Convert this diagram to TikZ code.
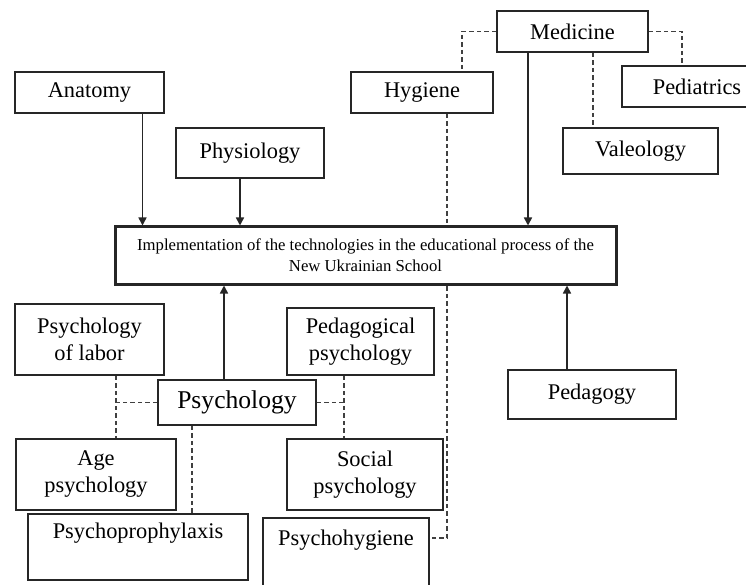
\documentclass[tikz,border=0pt]{standalone}
\usepackage{fontspec}
\setmainfont{Liberation Serif}
\usetikzlibrary{arrows.meta,backgrounds}
\tikzset{
  box/.style={draw=black!85, line width=1.6pt, fill=white, rectangle, inner sep=0pt, align=center, font=\fontsize{22.4}{27}\selectfont},
  mainbox/.style={box, line width=3pt, font=\fontsize{16.7}{21}\selectfont},
  conn/.style={draw=black!85, line width=1.6pt, -{Triangle[length=8pt,width=8pt]}},
  dline/.style={draw=black!75, line width=1.5pt, dash pattern=on 4.5pt off 3pt},
}
\begin{document}
\begin{tikzpicture}[x=1pt,y=-1pt]
\useasboundingbox (0,0) rectangle (746,585);
% top nodes
\node[box, minimum width=151, minimum height=41] (med) at (572.5,31.5) {Medicine};
\node[box, minimum width=142, minimum height=41] (hyg) at (422,92.5) {Hygiene};
\node[box, minimum width=150, minimum height=41] (ped) at (697,86.5) {Pediatrics};
\node[box, minimum width=155, minimum height=46] (val) at (640.5,151) {Valeology};
\node[box, minimum width=149, minimum height=41] (ana) at (89.5,92.5) {Anatomy};
\node[box, minimum width=148, minimum height=50] (phy) at (250,153) {Physiology};
% main
\node[mainbox, minimum width=501, minimum height=57] (main) at (365.5,255.5) {Implementation of the technologies in the educational process of the\\New Ukrainian School};
% lower nodes
\node[box, minimum width=149, minimum height=71] (lab) at (89.5,339.5) {Psychology\\of labor};
\node[box, minimum width=147, minimum height=67] (pps) at (360.5,341.5) {Pedagogical\\psychology};
\node[box, minimum width=158, minimum height=45, font=\fontsize{25.6}{30}\selectfont] (psy) at (237,402.5) {Psychology};
\node[box, minimum width=168, minimum height=49] (pdg) at (592,394.5) {Pedagogy};
\node[box, minimum width=160, minimum height=71] (age) at (96,474.5) {Age\\psychology};
\node[box, minimum width=156, minimum height=71] (soc) at (365,474.5) {Social\\psychology};
\node[box, minimum width=220, minimum height=66, text depth=6pt] (ppx) at (138,547) {Psychoprophylaxis\\\mbox{}};
\node[box, minimum width=166, minimum height=72, text depth=6pt] (phg) at (346,554) {Psychohygiene\\\mbox{}};
\coordinate (lx) at ([xshift=26.5]lab.south);
\coordinate (rx) at ([xshift=-16.5]pps.south);
\begin{scope}[on background layer]
% solid arrows to main box
\draw[conn] ([xshift=53]ana.south) -- ([xshift=53]ana.south |- main.north);
\draw[conn] ([xshift=-10]phy.south) -- ([xshift=-10]phy.south |- main.north);
\draw[conn] ([xshift=-44.5]med.south) -- ([xshift=-44.5]med.south |- main.north);
\draw[conn] ([xshift=-13]psy.north) -- ([xshift=-13]psy.north |- main.south);
\draw[conn] ([xshift=-25]pdg.north) -- ([xshift=-25]pdg.north |- main.south);
% dashed medicine links
\draw[dline] (med.west) -| ([xshift=40]hyg.north);
\draw[dline] (med.east) -| ([xshift=-15]ped.north);
\draw[dline] ([xshift=20.5]med.south) -- ([xshift=20.5]med.south |- val.north);
\draw[dline] ([xshift=25]hyg.south) |- ([yshift=16]phg.east);
% dashed psychology links
\draw[dline] (lx) -- (lx |- age.north);
\draw[dline] (psy.west) -- (psy.west -| lx);
\draw[dline] (rx) -- (rx |- soc.north);
\draw[dline] (psy.east) -- (psy.east -| rx);
\draw[dline] ([xshift=-45]psy.south) -- ([xshift=-45]psy.south |- ppx.north);
\end{scope}
\end{tikzpicture}
\end{document}
